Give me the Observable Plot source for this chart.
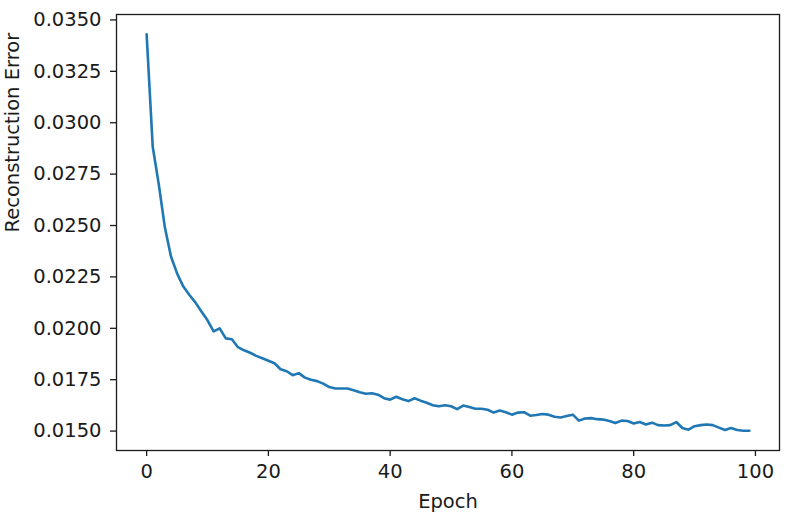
<!DOCTYPE html>
<html>
<head>
<meta charset="utf-8">
<script src="https://cdn.jsdelivr.net/npm/d3@7"></script>
<script src="https://cdn.jsdelivr.net/npm/@observablehq/plot@0.6"></script>
<style>
  html, body { margin: 0; padding: 0; background: #fff; }
</style>
</head>
<body>
<div id="chart"></div>
<script>
// Reconstruction error per epoch (epoch = index, 0..99)
const reconstructionError = [
  0.03430, 0.02883, 0.02699, 0.02490, 0.02349, 0.02267, 0.02204, 0.02163, 0.02126, 0.02082,
  0.02039, 0.01985, 0.02000, 0.01951, 0.01947, 0.01908, 0.01893, 0.01881, 0.01866, 0.01854,
  0.01842, 0.01830, 0.01801, 0.01791, 0.01772, 0.01782, 0.01760, 0.01750, 0.01743, 0.01731,
  0.01714, 0.01707, 0.01707, 0.01707, 0.01699, 0.01689, 0.01682, 0.01684, 0.01677, 0.01660,
  0.01653, 0.01667, 0.01655, 0.01646, 0.01660, 0.01648, 0.01638, 0.01626, 0.01621, 0.01626,
  0.01621, 0.01607, 0.01624, 0.01617, 0.01609, 0.01609, 0.01604, 0.01590, 0.01600, 0.01592,
  0.01580, 0.01590, 0.01592, 0.01575, 0.01578, 0.01583, 0.01580, 0.01570, 0.01566, 0.01573,
  0.01580, 0.01551, 0.01561, 0.01563, 0.01558, 0.01556, 0.01549, 0.01539, 0.01551, 0.01549,
  0.01537, 0.01544, 0.01532, 0.01541, 0.01529, 0.01527, 0.01529, 0.01544, 0.01515, 0.01507,
  0.01524, 0.01529, 0.01532, 0.01529, 0.01517, 0.01505, 0.01515, 0.01505, 0.01502, 0.01502
];
const xTicks = [0, 20, 40, 60, 80, 100];
const yTicks = [0.0150, 0.0175, 0.0200, 0.0225, 0.0250, 0.0275, 0.0300, 0.0325, 0.0350];
const xLabel = "Epoch";
const yLabel = "Reconstruction Error";

const data = reconstructionError.map((v, i) => ({epoch: i, error: v}));

// matplotlib-style 5% data margins
const xMin = 0, xMax = data.length - 1;
const xPad = (xMax - xMin) * 0.05;
const yMin = d3.min(reconstructionError), yMax = d3.max(reconstructionError);
const yPad = (yMax - yMin) * 0.05;

const chart = Plot.plot({
  width: 793,
  height: 517,
  marginLeft: 116,
  marginRight: 14,
  marginTop: 14,
  marginBottom: 67,
  style: {fontFamily: "DejaVu Sans", fontSize: "19.5px", color: "#1a1a1a", background: "#fff"},
  x: {domain: [xMin - xPad, xMax + xPad]},
  y: {domain: [yMin - yPad, yMax + yPad]},
  marks: [
    Plot.axisX({ticks: xTicks, tickSize: 6, tickPadding: 8, label: null, strokeWidth: 1.3}),
    Plot.axisY({ticks: yTicks, tickFormat: d3.format(".4f"), tickSize: 6, tickPadding: 9, label: null, strokeWidth: 1.3}),
    Plot.line(data, {x: "epoch", y: "error", stroke: "#1f77b4", strokeWidth: 2.6}),
    Plot.frame({stroke: "#1a1a1a", strokeWidth: 1.3}),
    Plot.text([yLabel], {text: d => d, frameAnchor: "left", dx: -104, rotate: -90, lineAnchor: "middle"}),
    Plot.text([xLabel], {text: d => d, frameAnchor: "bottom", dy: 51, lineAnchor: "middle"})
  ]
});
document.getElementById("chart").appendChild(chart);
</script>
</body>
</html>
